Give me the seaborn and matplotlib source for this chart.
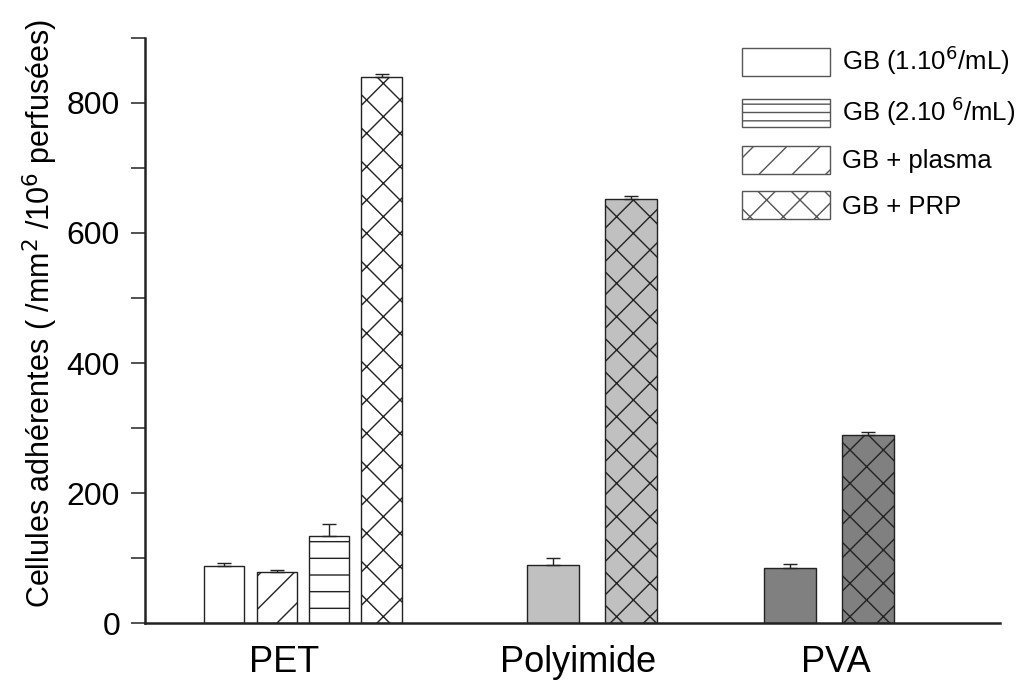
import numpy as np
import pandas as pd
import matplotlib
matplotlib.use("Agg")
import matplotlib.pyplot as plt
import seaborn as sns
from matplotlib.patches import Patch
from matplotlib.ticker import MultipleLocator

# data
materials = ["PET", "Polyimide", "PVA"]
pet_conditions = ["GB1", "plasma", "GB2", "PRP"]
pet_values = [87, 78, 134, 840]
pet_errors = [5, 4, 18, 4]
polyimide_conditions = ["GB1", "PRP"]
polyimide_values = [89, 652]
polyimide_errors = [11, 5]
pva_conditions = ["GB1", "PRP"]
pva_values = [85, 289]
pva_errors = [6, 5]
legend_labels = ["GB (1.10$^{6}$/mL)", "GB (2.10$^{\\ 6}$/mL)", "GB + plasma", "GB + PRP"]
ylabel = "Cellules adhérentes ( /mm$^{2}$ /10$^{6}$ perfusées)"

# layout (x units span the axes width)
group_centers = {"PET": 158, "Polyimide": 447, "PVA": 684}
slot_spacing = {"PET": 52.5, "Polyimide": 78, "PVA": 78}
bar_frac = {"PET": 0.77, "Polyimide": 0.667, "PVA": 0.667}
label_pos = [139, 433, 691]
fills = {"PET": "white", "Polyimide": "#c0c0c0", "PVA": "#808080"}
hatches = {"GB1": "", "GB2": "-", "plasma": "/", "PRP": "x"}
edge = "#222222"

groups = {
    "PET": (pet_conditions, pet_values, pet_errors),
    "Polyimide": (polyimide_conditions, polyimide_values, polyimide_errors),
    "PVA": (pva_conditions, pva_values, pva_errors),
}

sns.set_style("ticks")
plt.rcParams["font.family"] = ["Liberation Sans", "DejaVu Sans"]
plt.rcParams["hatch.linewidth"] = 1.0

fig = plt.figure(figsize=(10.2, 6.98), dpi=100)
ax = fig.add_axes([0.1422, 0.1074, 0.8378, 0.8382])

for mat in materials:
    conds, vals, errs = groups[mat]
    n = len(conds)
    offsets = (np.arange(n) - (n - 1) / 2) * slot_spacing[mat]
    df = pd.DataFrame({"pos": group_centers[mat] + offsets, "value": vals,
                       "err": errs, "cond": conds})
    start = len(ax.patches)
    sns.barplot(data=df, x="pos", y="value", native_scale=True,
                width=bar_frac[mat], color=fills[mat], saturation=1,
                edgecolor=edge, linewidth=1.0, errorbar=None, ax=ax)
    for patch, c in zip(ax.patches[start:], conds):
        patch.set_hatch(hatches[c])
    ax.errorbar(df["pos"], df["value"], yerr=[np.zeros(n), df["err"]],
                fmt="none", ecolor=edge, elinewidth=1.0, capsize=5, capthick=1.0)

ax.set_xlim(0, 855)
ax.set_ylim(0, 900)
ax.set_xticks(label_pos)
ax.set_xticklabels(materials, fontsize=26, color="black")
ax.tick_params(axis="x", length=0, pad=16)
ax.yaxis.set_major_locator(MultipleLocator(200))
ax.yaxis.set_minor_locator(MultipleLocator(100))
ax.tick_params(axis="y", which="both", direction="out", length=10, width=1.2,
               labelsize=23, pad=8, color="#333333", labelcolor="black")
ax.set_xlabel("")
ax.set_ylabel(ylabel, fontsize=22, color="black")
ax.yaxis.set_label_coords(-0.100, 0.53)
ax.spines["top"].set_visible(False)
ax.spines["right"].set_visible(False)
for s in ["left", "bottom"]:
    ax.spines[s].set_linewidth(1.8)
    ax.spines[s].set_color("#222222")

handles = [Patch(facecolor="white", edgecolor="#555555", hatch=h, linewidth=1.0)
           for h in ["", "--", "/", "x"]]
leg = ax.legend(handles, legend_labels, loc="upper left", bbox_to_anchor=(0.698, 0.99),
                frameon=False, fontsize=18.5, handlelength=3.45, handleheight=1.3,
                labelspacing=0.68, handletextpad=0.45, borderpad=0, borderaxespad=0)
for t in leg.get_texts():
    t.set_color("black")

fig.savefig("out.png", dpi=100)
